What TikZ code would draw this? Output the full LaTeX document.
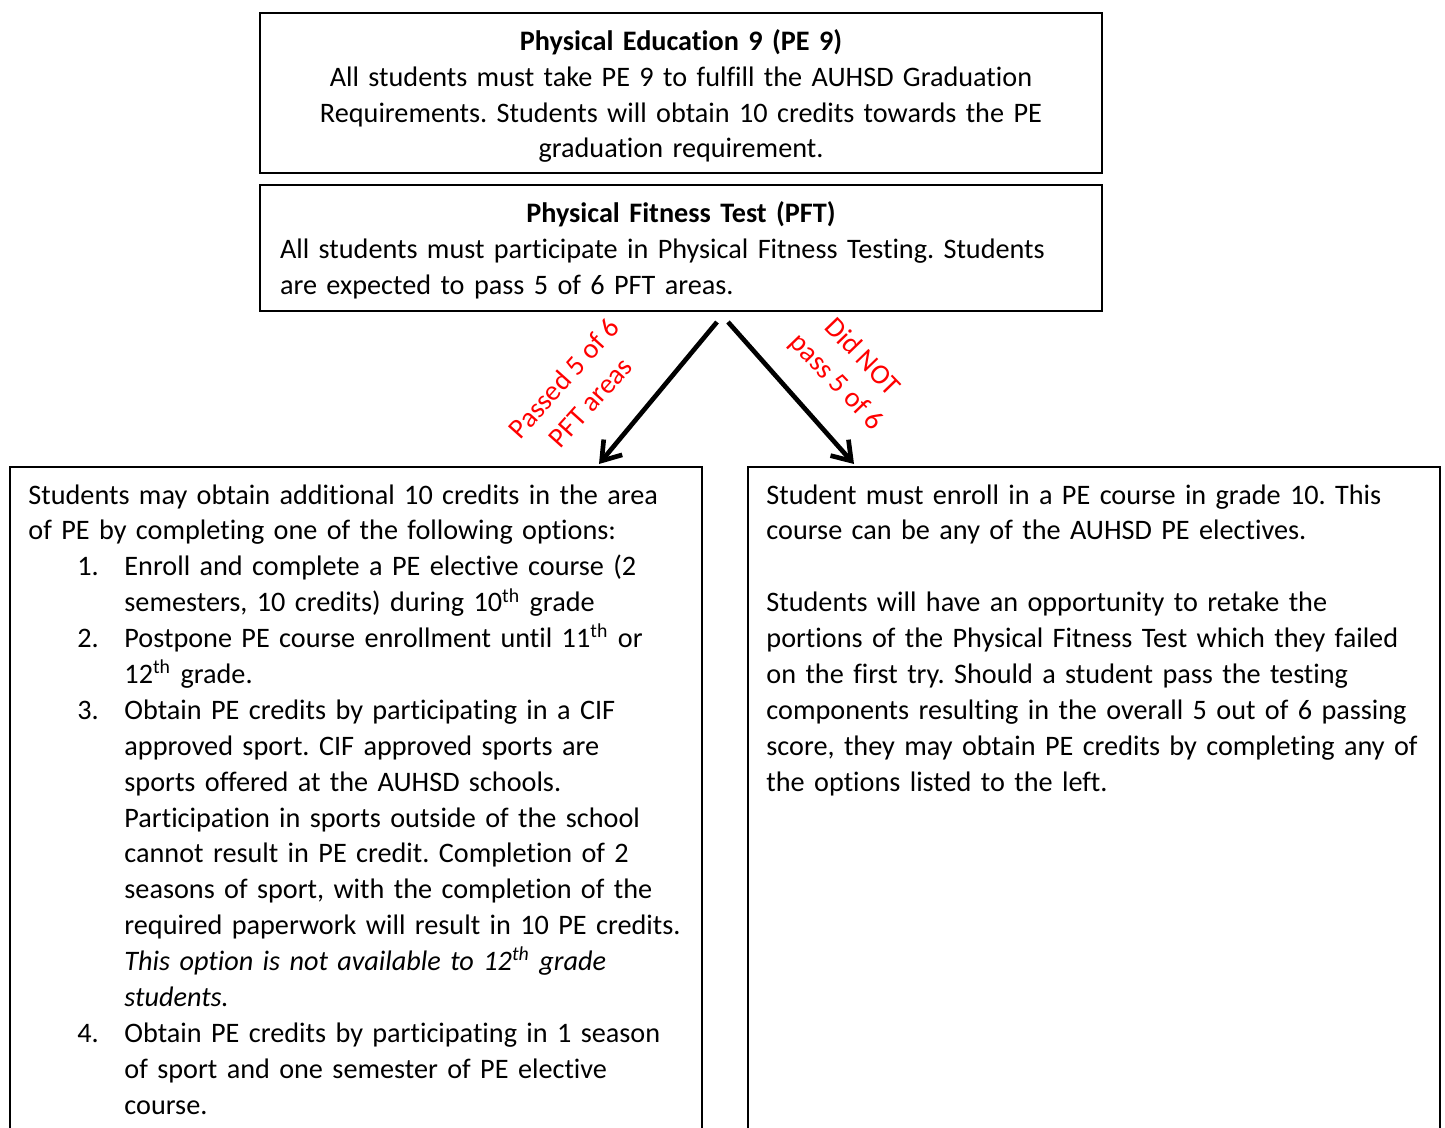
\documentclass[tikz,border=0pt]{standalone}
\usepackage{fontspec}
\setmainfont{Carlito}[Ligatures=CommonOff]
\usetikzlibrary{arrows.meta}
\frenchspacing

\newcommand{\bodyfont}{\fontsize{12.7}{16.15}\selectfont}
\newenvironment{passlist}{\begin{list}{\arabic{enumi}.}{\usecounter{enumi}%
  \setlength{\leftmargin}{43.2pt}\setlength{\labelwidth}{21.2pt}%
  \setlength{\labelsep}{0pt}\setlength{\itemsep}{0pt}\setlength{\parsep}{0pt}%
  \setlength{\topsep}{0pt}\setlength{\partopsep}{0pt}%
  \def\makelabel##1{##1\hfil}}}{\end{list}}

\tikzset{
  panel/.style={draw, line width=0.9pt, inner sep=0pt},
  body/.style={anchor=north west, inner sep=0pt, align=left, font=\bodyfont},
  verdict/.style={red, align=center, font=\bodyfont, inner sep=0pt},
  branch/.style={line width=2.1pt, ->}
}

\begin{document}
\begin{tikzpicture}[x=0.45pt, y=-0.45pt, >={Straight Barb[length=2.8mm,width=3.8mm]}]
	\useasboundingbox (0,0) rectangle (1445,1128);
	\clip (0,0) rectangle (1445,1128);
	% top boxes
	\node[panel, anchor=north west, minimum width=378.9pt, minimum height=72pt, align=center, text width=370pt, font=\bodyfont] (pe) at (259,12)
		{\rule{0pt}{12.2pt}\textbf{Physical Education 9 (PE 9)}\\ All students must take PE 9 to fulfill the AUHSD Graduation\\ Requirements. Students will obtain 10 credits towards the PE\\ graduation requirement.};
	\node[panel, anchor=north west, minimum width=378.9pt, minimum height=56.7pt, inner xsep=9pt, align=left, text width=360.9pt, font=\bodyfont] (pft) at (259,184)
		{\rule{0pt}{11.3pt}\makebox[\hsize][c]{\textbf{Physical Fitness Test (PFT)}}\\ All students must participate in Physical Fitness Testing. Students\\ are expected to pass 5 of 6 PFT areas.};
	% bottom boxes
	\node[panel, anchor=north west, minimum width=311.4pt, minimum height=320pt] (passbox) at (9,466) {};
	\node[panel, anchor=north west, minimum width=311.4pt, minimum height=320pt] (failbox) at (747,466) {};
	\node[body, text width=302pt] (passtext) at ([shift={(19,18)}]passbox.north west)
		{Students may obtain additional 10 credits in the area\newline of PE by completing one of the following options:
		\begin{passlist}
			\item Enroll and complete a PE elective course (2\newline semesters, 10 credits) during 10\textsuperscript{th} grade
			\item Postpone PE course enrollment until 11\textsuperscript{th} or\newline 12\textsuperscript{th} grade.
			\item Obtain PE credits by participating in a CIF\newline approved sport. CIF approved sports are\newline sports offered at the AUHSD schools.\newline Participation in sports outside of the school\newline cannot result in PE credit. Completion of 2\newline seasons of sport, with the completion of the\newline required paperwork will result in 10 PE credits.\newline \textit{This option is not available to 12\textsuperscript{th} grade\newline students.}
			\item Obtain PE credits by participating in 1 season\newline of sport and one semester of PE elective\newline course.
		\end{passlist}};
	\node[body, text width=302pt] (failtext) at ([shift={(19,18)}]failbox.north west)
		{Student must enroll in a PE course in grade 10. This\newline course can be any of the AUHSD PE electives.\newline\mbox{}\newline Students will have an opportunity to retake the\newline portions of the Physical Fitness Test which they failed\newline on the first try. Should a student pass the testing\newline components resulting in the overall 5 out of 6 passing\newline score, they may obtain PE credits by completing any of\newline the options listed to the left.};
	% branches
	\draw[branch] ([shift={(36,10)}]pft.south) -- ([shift={(243,-2)}]passbox.north);
	\draw[branch] ([shift={(47,10)}]pft.south) -- ([shift={(-240,-2)}]failbox.north);
	\node[verdict, rotate=48] (passlabel) at (577,390) {Passed 5 of 6\\PFT areas};
	\node[verdict, rotate=-46] (faillabel) at (849,370) {Did NOT\\pass 5 of 6};
\end{tikzpicture}
\end{document}
